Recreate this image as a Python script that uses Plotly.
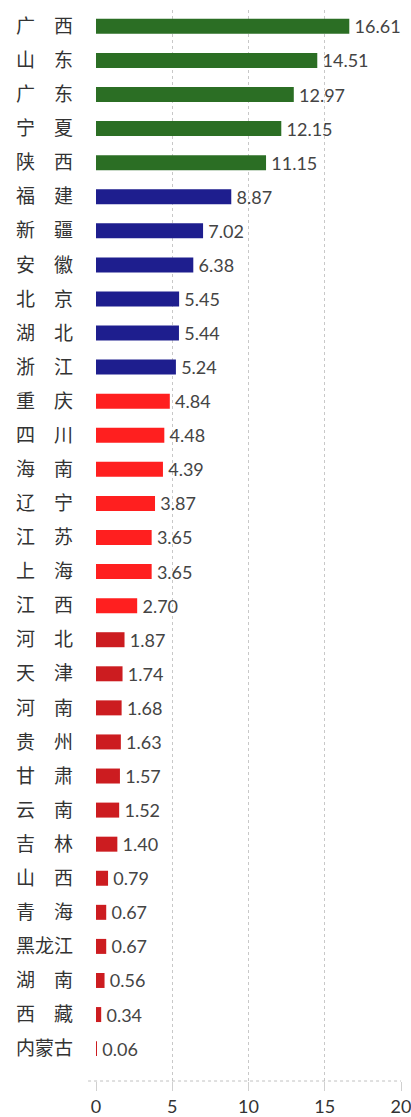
import plotly.graph_objects as go

provinces = ["广　西", "山　东", "广　东", "宁　夏", "陕　西", "福　建", "新　疆", "安　徽",
             "北　京", "湖　北", "浙　江", "重　庆", "四　川", "海　南", "辽　宁", "江　苏",
             "上　海", "江　西", "河　北", "天　津", "河　南", "贵　州", "甘　肃", "云　南",
             "吉　林", "山　西", "青　海", "黑龙江", "湖　南", "西　藏", "内蒙古"]
values = [16.61, 14.51, 12.97, 12.15, 11.15, 8.87, 7.02, 6.38, 5.45, 5.44, 5.24,
          4.84, 4.48, 4.39, 3.87, 3.65, 3.65, 2.70, 1.87, 1.74, 1.68, 1.63, 1.57,
          1.52, 1.40, 0.79, 0.67, 0.67, 0.56, 0.34, 0.06]
group_sizes = [5, 6, 7, 13]
group_colors = ["#2b6e24", "#1e1e8e", "#ff1f1f", "#cc1c20"]
x_ticks = [0, 5, 10, 15, 20]

colors = []
for n, c in zip(group_sizes, group_colors):
    colors += [c] * n

fig = go.Figure(go.Bar(
    x=values, y=provinces, orientation="h",
    marker=dict(color=colors, line=dict(width=0)),
    width=0.44,
    text=[f"{v:.2f}" for v in values],
    texttemplate="\u2009%{text}",
    textposition="outside",
    constraintext="none",
    textfont=dict(family="Lato, Noto Sans, sans-serif", size=18, color="#444444"),
    cliponaxis=False,
))

n = len(provinces)
fig.update_layout(
    width=411, height=1117,
    margin=dict(l=96, r=10, t=10, b=36, autoexpand=False),
    paper_bgcolor="white", plot_bgcolor="white",
    showlegend=False,
    xaxis=dict(
        range=[0, 20], tickvals=x_ticks, ticktext=[str(t) for t in x_ticks],
        showgrid=True, gridcolor="#c8c8c8", griddash="dot", gridwidth=1,
        zeroline=False, showline=False, automargin=False,
        ticks="outside", ticklen=9, tickcolor="#d0d0d0",
        ticklabeloverflow="allow",
        tickfont=dict(family="Lato, Noto Sans, sans-serif", size=18, color="#333333"),
    ),
    yaxis=dict(
        categoryorder="array", categoryarray=provinces,
        range=[n - 1 + 0.95, -0.48], automargin=False,
        showgrid=False, zeroline=False, showline=False, ticks="",
        ticklabelstandoff=22,
        tickfont=dict(family="Noto Sans CJK SC", size=19, color="#333333"),
    ),
    shapes=[dict(type="line", xref="paper", yref="paper", x0=-0.026, x1=1.0, y0=0, y1=0,
                 line=dict(color="#c0c0c0", width=1, dash="dot"))],
)

fig.write_html("out.html")
